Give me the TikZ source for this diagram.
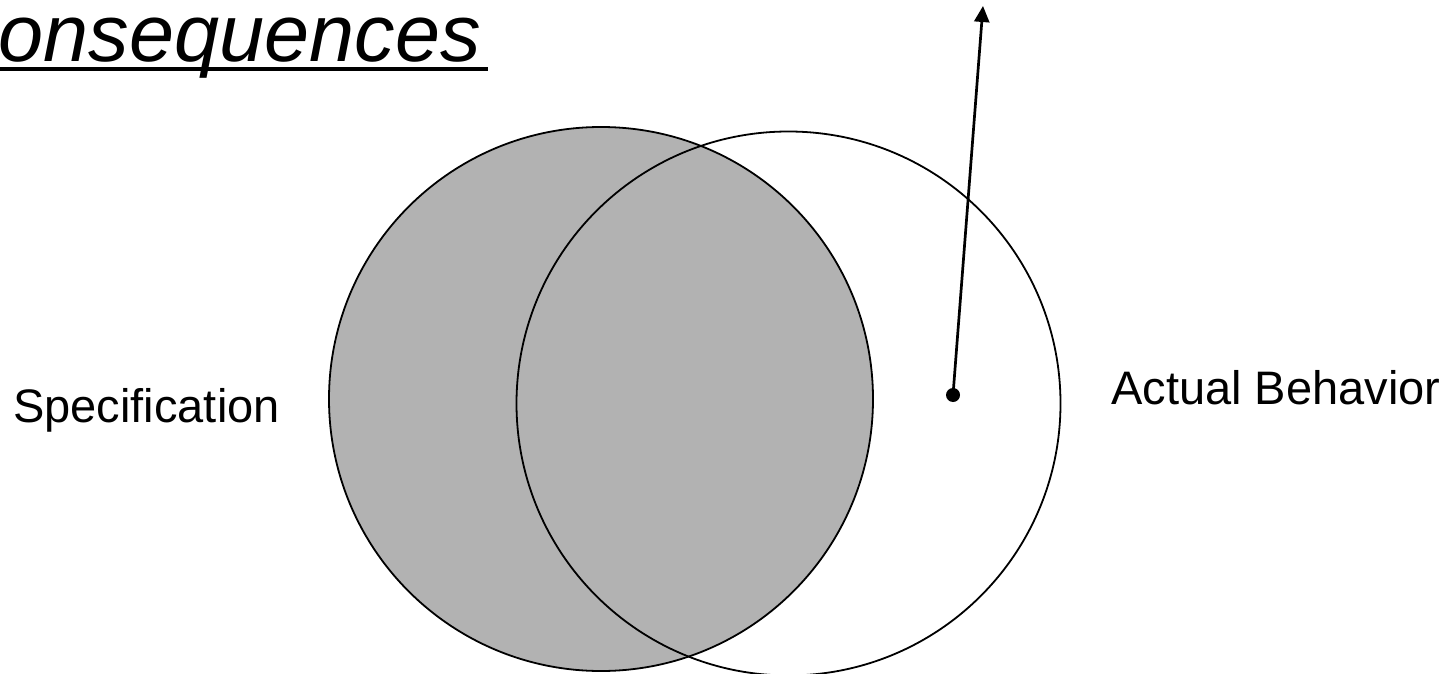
\documentclass[tikz,border=0pt]{standalone}
\usepackage{fontspec}
\setmainfont{Liberation Sans}
\usetikzlibrary{arrows.meta}

\begin{document}
\begin{tikzpicture}[x=1pt, y=-1pt,
        setcircle/.style={circle, draw, line width=1.8pt, minimum size=544pt, inner sep=0pt},
        setlabel/.style={font=\fontsize{47}{56}\selectfont, inner sep=0pt},
        headline/.style={font=\fontsize{81}{97}\selectfont\itshape, inner sep=0pt},
        spot/.style={circle, fill, minimum size=14pt, inner sep=0pt}
    ]

    \useasboundingbox (0,0) rectangle (1453,674);
    \clip (0,0) rectangle (1453,674);

    \node[headline, anchor=base east] (head) at (481,62) {Consequences};
    \draw[line width=3.5pt] ([yshift=-7pt]head.base west) -- ([yshift=-7pt, xshift=7pt]head.base east);

    \node[setcircle, fill=black!30] (spec) at (601,399) {};
    \node[setcircle] (actual) at (788.5,403.5) {};

    \node[setlabel, anchor=base east] (specName) at (280,422) {Specification};
    \node[setlabel, anchor=base west] (actualName) at (1111,404) {Actual Behavior};

    \node[spot] (pick) at (953,395) {};
    \coordinate (tip) at (983,6);
    \draw[line width=2.7pt, -{Triangle[length=16pt, width=15pt]}] (pick.center) -- (tip);

\end{tikzpicture}
\end{document}
